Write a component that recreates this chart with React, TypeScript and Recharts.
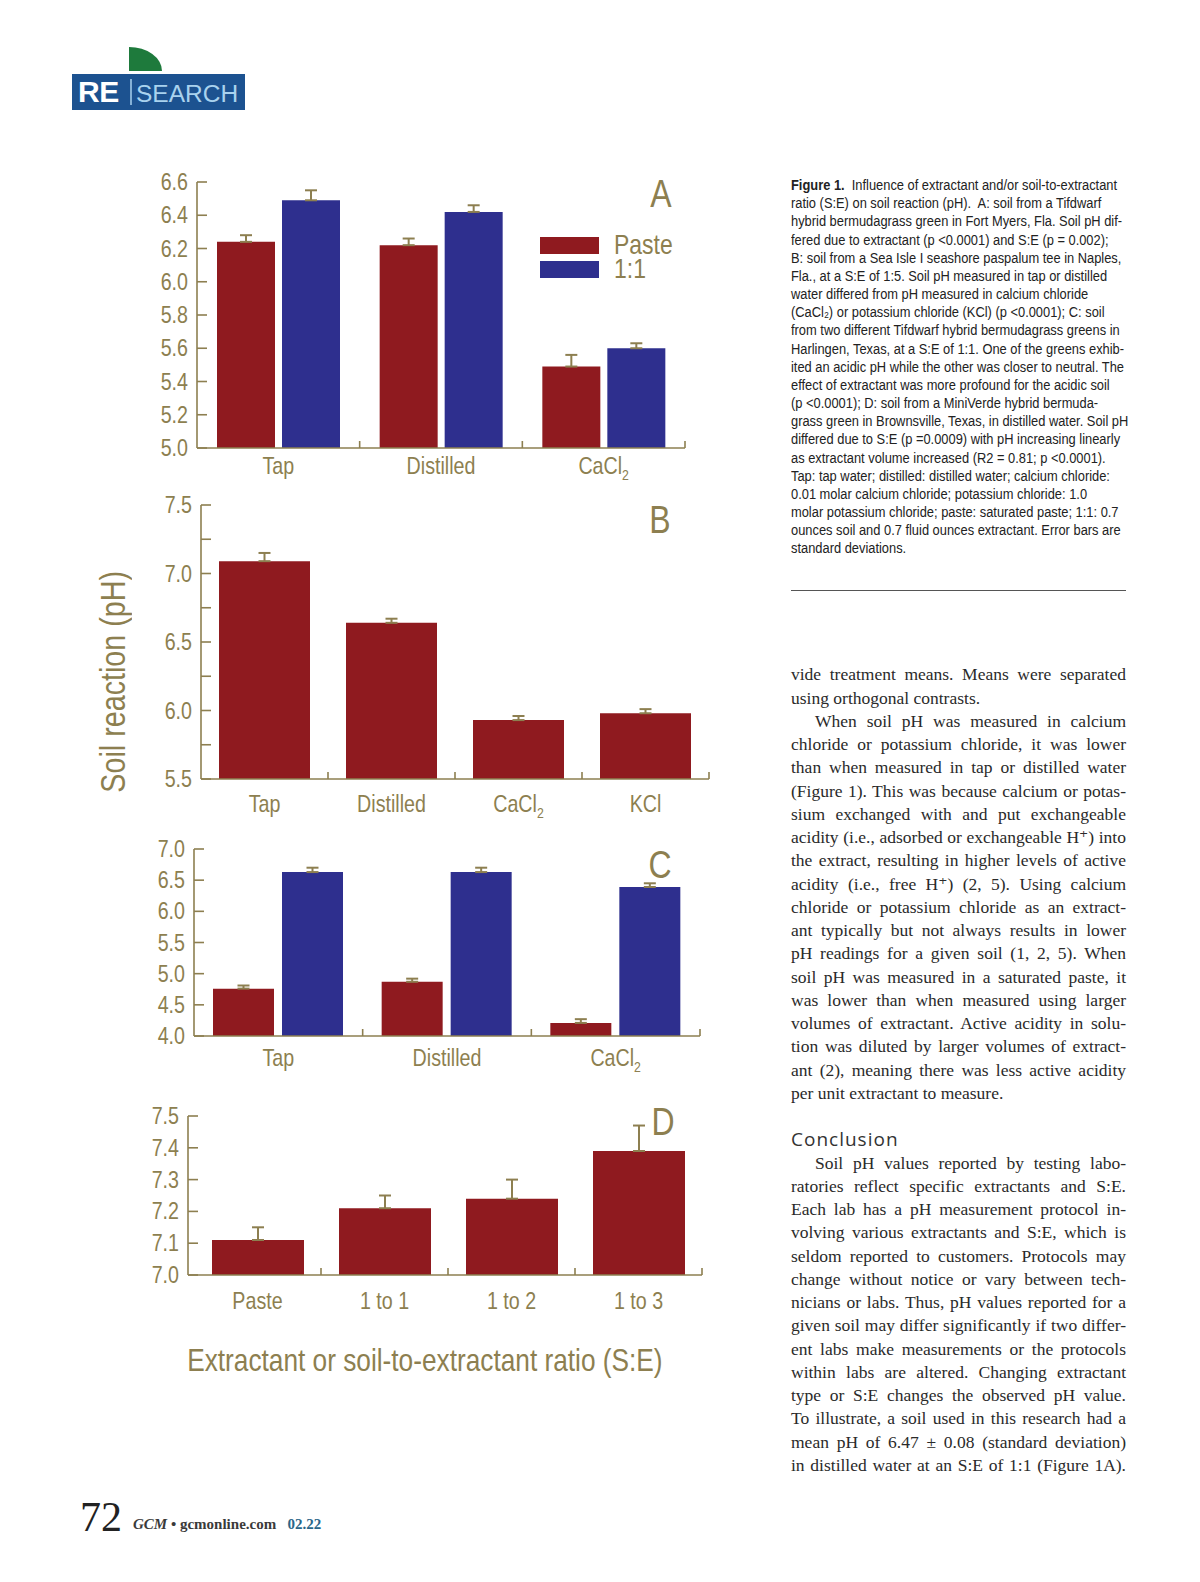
import React from "react";
import { BarChart, Bar, XAxis, YAxis, ErrorBar, Legend } from "recharts";

// ---- data ----
const groupsA = ["Tap", "Distilled", "CaCl2"];
const pasteA = [6.24, 6.22, 5.49];
const pasteSdA = [0.04, 0.04, 0.07];
const oneA = [6.49, 6.42, 5.6];
const oneSdA = [0.06, 0.04, 0.03];
const ticksA = [5.0, 5.2, 5.4, 5.6, 5.8, 6.0, 6.2, 6.4, 6.6];

const groupsB = ["Tap", "Distilled", "CaCl2", "KCl"];
const valuesB = [7.09, 6.64, 5.93, 5.98];
const sdB = [0.06, 0.03, 0.03, 0.03];
const ticksB = [5.5, 5.75, 6.0, 6.25, 6.5, 6.75, 7.0, 7.25, 7.5];

const groupsC = ["Tap", "Distilled", "CaCl2"];
const pasteC = [4.76, 4.87, 4.21];
const pasteSdC = [0.05, 0.05, 0.06];
const oneC = [6.63, 6.63, 6.39];
const oneSdC = [0.07, 0.07, 0.06];
const ticksC = [4.0, 4.5, 5.0, 5.5, 6.0, 6.5, 7.0];

const groupsD = ["Paste", "1 to 1", "1 to 2", "1 to 3"];
const valuesD = [7.11, 7.21, 7.24, 7.39];
const sdD = [0.04, 0.04, 0.06, 0.08];
const ticksD = [7.0, 7.1, 7.2, 7.3, 7.4, 7.5];

const seriesOrder = ["Paste", "1:1"];

const OLIVE = "#8d7f50";
const RED = "#8f1a1f";
const BLUE = "#2e2f8e";
// no narrow face installed, so Liberation Sans gets squeezed to Arial Narrow proportions
const SANS = '"Liberation Sans", Arial, sans-serif';
const SQ = 0.82;
const SERIF = '"Liberation Serif", "DejaVu Serif", serif';

const rowsA = groupsA.map((g, i) => ({ group: g, paste: pasteA[i], pasteSd: [0, pasteSdA[i]], one: oneA[i], oneSd: [0, oneSdA[i]] }));
const rowsB = groupsB.map((g, i) => ({ group: g, paste: valuesB[i], pasteSd: [0, sdB[i]] }));
const rowsC = groupsC.map((g, i) => ({ group: g, paste: pasteC[i], pasteSd: [0, pasteSdC[i]], one: oneC[i], oneSd: [0, oneSdC[i]] }));
const rowsD = groupsD.map((g, i) => ({ group: g, paste: valuesD[i], pasteSd: [0, sdD[i]] }));

const Y_W = 60;
const X_H = 50;
const M = { top: 20, right: 10, left: 0, bottom: 0 };

function Narrow({ children, origin = "left", sq = SQ, style }: any) {
  return (
    <span style={{ display: "inline-block", whiteSpace: "pre", fontFamily: SANS, transform: `scaleX(${sq})`, transformOrigin: origin, ...style }}>
      {children}
    </span>
  );
}

function YTick(props: any) {
  const { x, y, payload, labelStep } = props;
  const v = payload.value as number;
  const show = Math.abs(v / labelStep - Math.round(v / labelStep)) < 1e-6;
  const axisX = x + 9;
  return (
    <g>
      <line x1={axisX} x2={axisX + 10} y1={y} y2={y} stroke={OLIVE} strokeWidth={1.6} />
      {show && (
        <text transform={`translate(${x},${y + 8}) scale(${SQ},1)`} textAnchor="end" fill={OLIVE} fontSize={24} fontFamily={SANS}>
          {v.toFixed(1)}
        </text>
      )}
    </g>
  );
}

function XTick(props: any) {
  const { x, y, payload, step, base, padL } = props;
  const axisY = y - 4;
  const raw = String(payload.value);
  const chem = raw === "CaCl2";
  const bx = x + step / 2;
  return (
    <g>
      <line x1={bx} x2={bx} y1={axisY} y2={axisY - 7} stroke={OLIVE} strokeWidth={1.6} />
      <text transform={`translate(${x},${axisY + base}) scale(${SQ},1)`} textAnchor="middle" fill={OLIVE} fontSize={24} fontFamily={SANS}>
        {chem ? (
          <>
            CaCl<tspan dy={6} fontSize={15}>2</tspan>
          </>
        ) : (
          raw
        )}
      </text>
    </g>
  );
}

function LegendBox(props: any) {
  const items = [...(props.payload || [])].sort((a: any, b: any) => seriesOrder.indexOf(a.value) - seriesOrder.indexOf(b.value));
  return (
    <div>
      {items.map((it: any) => (
        <div key={it.value} style={{ display: "flex", alignItems: "center", height: 24 }}>
          <span style={{ width: 59, height: 17, background: it.color, display: "inline-block" }} />
          <Narrow style={{ marginLeft: 15, fontSize: 28, color: OLIVE, lineHeight: "22px" }}>{it.value}</Narrow>
        </div>
      ))}
    </div>
  );
}

function Panel(p: any) {
  const n = p.data.length;
  const padL = p.padL || 0;
  const step = (p.width - Y_W - M.left - M.right - padL) / n;
  return (
    <div style={{ position: "absolute", left: p.left, top: p.top }}>
      <BarChart width={p.width} height={p.height} data={p.data} margin={M} barGap={p.barGap || 0} barSize={p.barSize}>
        <XAxis
          dataKey="group"
          height={X_H}
          interval={0}
          padding={{ left: padL, right: 0 }}
          tickLine={false}
          tickSize={0}
          tickMargin={4}
          axisLine={{ stroke: OLIVE, strokeWidth: 1.6 }}
          tick={(tp: any) => <XTick {...tp} step={step} base={p.labelBase} />}
        />
        <YAxis
          type="number"
          domain={p.domain}
          ticks={p.ticks}
          interval={0}
          allowDataOverflow
          width={Y_W}
          tickLine={false}
          tickSize={0}
          tickMargin={9}
          axisLine={{ stroke: OLIVE, strokeWidth: 1.6 }}
          tick={(tp: any) => <YTick {...tp} labelStep={p.labelStep} />}
        />
        {p.legend && (
          <Legend
            layout="vertical"
            align="center"
            verticalAlign="middle"
            content={(lp: any) => <LegendBox {...lp} />}
            wrapperStyle={{ left: p.legend[0] - p.left, top: p.legend[1] - p.top, width: 160, height: 50 }}
          />
        )}
        <Bar dataKey="paste" name="Paste" fill={RED} isAnimationActive={false}>
          <ErrorBar dataKey="pasteSd" width={6} stroke={OLIVE} strokeWidth={2} direction="y" isAnimationActive={false} />
        </Bar>
        {p.two && (
          <Bar dataKey="one" name="1:1" fill={BLUE} isAnimationActive={false}>
            <ErrorBar dataKey="oneSd" width={6} stroke={OLIVE} strokeWidth={2} direction="y" isAnimationActive={false} />
          </Bar>
        )}
      </BarChart>
      <div
        style={{
          position: "absolute",
          left: p.letter[0] - p.left - 30,
          top: p.letter[1] - p.top - 19,
          width: 60,
          textAlign: "center",
          fontSize: 39,
          lineHeight: "38px",
          color: OLIVE,
        }}
      >
        <Narrow origin="center">{p.letter[2]}</Narrow>
      </div>
    </div>
  );
}

const caption: string[] = [
  "  Influence of extractant and/or soil-to-extractant",
  "ratio (S:E) on soil reaction (pH).  A: soil from a Tifdwarf",
  "hybrid bermudagrass green in Fort Myers, Fla. Soil pH dif-",
  "fered due to extractant (p <0.0001) and S:E (p = 0.002);",
  "B: soil from a Sea Isle I seashore paspalum tee in Naples,",
  "Fla., at a S:E of 1:5. Soil pH measured in tap or distilled",
  "water differed from pH measured in calcium chloride",
  "(CaCl\u2082) or potassium chloride (KCl) (p <0.0001); C: soil",
  "from two different Tifdwarf hybrid bermudagrass greens in",
  "Harlingen, Texas, at a S:E of 1:1. One of the greens exhib-",
  "ited an acidic pH while the other was closer to neutral. The",
  "effect of extractant was more profound for the acidic soil",
  "(p <0.0001); D: soil from a MiniVerde hybrid bermuda-",
  "grass green in Brownsville, Texas, in distilled water. Soil pH",
  "differed due to S:E (p =0.0009) with pH increasing linearly",
  "as extractant volume increased (R2 = 0.81; p <0.0001).",
  "Tap: tap water; distilled: distilled water; calcium chloride:",
  "0.01 molar calcium chloride; potassium chloride: 1.0",
  "molar potassium chloride; paste: saturated paste; 1:1: 0.7",
  "ounces soil and 0.7 fluid ounces extractant. Error bars are",
  "standard deviations.",
];

// [text, indent, lastLineOfParagraph]
const body: [string, boolean, boolean][] = [
  ["vide treatment means. Means were separated", false, false],
  ["using orthogonal contrasts.", false, true],
  ["When soil pH was measured in calcium", true, false],
  ["chloride or potassium chloride, it was lower", false, false],
  ["than when measured in tap or distilled water", false, false],
  ["(Figure 1). This was because calcium or potas-", false, false],
  ["sium exchanged with and put exchangeable", false, false],
  ["acidity (i.e., adsorbed or exchangeable H\u207A) into", false, false],
  ["the extract, resulting in higher levels of active", false, false],
  ["acidity (i.e., free H\u207A) (2, 5). Using calcium", false, false],
  ["chloride or potassium chloride as an extract-", false, false],
  ["ant typically but not always results in lower", false, false],
  ["pH readings for a given soil (1, 2, 5). When", false, false],
  ["soil pH was measured in a saturated paste, it", false, false],
  ["was lower than when measured using larger", false, false],
  ["volumes of extractant. Active acidity in solu-", false, false],
  ["tion was diluted by larger volumes of extract-", false, false],
  ["ant (2), meaning there was less active acidity", false, false],
  ["per unit extractant to measure.", false, true],
  ["", false, true],
  ["", false, true],
  ["Soil pH values reported by testing labo-", true, false],
  ["ratories reflect specific extractants and S:E.", false, false],
  ["Each lab has a pH measurement protocol in-", false, false],
  ["volving various extractants and S:E, which is", false, false],
  ["seldom reported to customers. Protocols may", false, false],
  ["change without notice or vary between tech-", false, false],
  ["nicians or labs. Thus, pH values reported for a", false, false],
  ["given soil may differ significantly if two differ-", false, false],
  ["ent labs make measurements or the protocols", false, false],
  ["within labs are altered. Changing extractant", false, false],
  ["type or S:E changes the observed pH value.", false, false],
  ["To illustrate, a soil used in this research had a", false, false],
  ["mean pH of 6.47 \u00B1 0.08 (standard deviation)", false, false],
  ["in distilled water at an S:E of 1:1 (Figure 1A).", false, false],
];

export default function App() {
  const colX = 791;
  const colW = 335;
  const bodyLH = 23.25;
  const bodyTop = 675 - bodyLH / 2;
  return (
    <div style={{ position: "absolute", left: 0, top: 0, width: 1200, height: 1582, background: "#fff", overflow: "hidden" }}>
      {/* header logo */}
      <svg style={{ position: "absolute", left: 0, top: 0 }} width={260} height={120}>
        <path d="M129,71 L129,47 A33,24 0 0,1 162,71 Z" fill="#1e7a3c" />
        <rect x={72} y={74} width={173} height={36} fill="#1c5290" />
        <text x={78} y={102} fill="#fff" fontFamily={SANS} fontWeight={900} fontSize={30} letterSpacing={-0.5}>
          RE
        </text>
        <line x1={131} x2={131} y1={79} y2={105} stroke="#a9d2ee" strokeWidth={1.5} />
        <text x={136} y={102} fill="#a9d2ee" fontFamily={SANS} fontSize={24.5}>
          SEARCH
        </text>
      </svg>

      <Panel left={137} top={162} width={558} height={336} data={rowsA} two domain={[5.0, 6.6]} ticks={ticksA} labelStep={0.2} barSize={58} barGap={7} labelBase={26} legend={[540, 233]} letter={[661, 194, "A"]} />
      <Panel left={141} top={485} width={578} height={344} data={rowsB} domain={[5.5, 7.5]} ticks={ticksB} labelStep={0.5} barSize={91} labelBase={33} letter={[660, 520, "B"]} />
      <Panel left={134} top={829} width={576} height={257} data={rowsC} two domain={[4.0, 7.0]} ticks={ticksC} labelStep={0.5} barSize={61} barGap={8} labelBase={30} letter={[660, 865, "C"]} />
      <Panel left={128} top={1096} width={584} height={229} data={rowsD} domain={[7.0, 7.5]} ticks={ticksD} labelStep={0.1} barSize={92} padL={6} labelBase={34} letter={[663, 1122, "D"]} />

      {/* axis titles */}
      <div style={{ position: "absolute", left: 113 - 150, top: 682 - 20, width: 300, height: 40, lineHeight: "40px", textAlign: "center", transform: "rotate(-90deg)", fontSize: 35, color: OLIVE }}>
        <Narrow origin="center">Soil reaction (pH)</Narrow>
      </div>
      <div style={{ position: "absolute", left: 425 - 300, top: 1360 - 20, width: 600, height: 40, lineHeight: "40px", textAlign: "center", fontSize: 32, color: OLIVE }}>
        <Narrow origin="center">Extractant or soil-to-extractant ratio (S:E)</Narrow>
      </div>

      {/* caption */}
      {caption.map((line, i) => (
        <div key={i} style={{ position: "absolute", left: colX, top: 185 - 9 + i * 18.17, height: 18, lineHeight: "18px", fontSize: 15.5, color: "#222" }}>
          <Narrow sq={0.83}>
            {i === 0 && <b>Figure 1.</b>}
            {line}
          </Narrow>
        </div>
      ))}
      <div style={{ position: "absolute", left: colX, top: 590, width: colW, height: 1, background: "#555" }} />

      {/* body text */}
      {body.map(([t, indent, last], i) =>
        t ? (
          <div
            key={i}
            style={{
              position: "absolute",
              left: colX,
              top: bodyTop + i * bodyLH,
              width: colW,
              height: bodyLH,
              lineHeight: `${bodyLH}px`,
              whiteSpace: "nowrap",
              textAlign: "justify",
              textAlignLast: last ? "left" : "justify",
              textIndent: indent ? 24 : 0,
              fontFamily: SERIF,
              fontSize: 17.5,
              color: "#2a2a2a",
            }}
          >
            {t}
          </div>
        ) : null
      )}
      <div style={{ position: "absolute", left: colX, top: bodyTop + 20 * bodyLH, height: bodyLH, lineHeight: `${bodyLH}px`, fontFamily: '"Open Sans", sans-serif', fontSize: 19, letterSpacing: 1, color: "#333" }}>
        Conclusion
      </div>

      {/* footer */}
      <div style={{ position: "absolute", left: 80, top: 1517 - 25, height: 50, lineHeight: "50px", fontFamily: SERIF, fontSize: 42, color: "#222" }}>72</div>
      <div style={{ position: "absolute", left: 133, top: 1524 - 10, height: 20, lineHeight: "20px", fontFamily: SERIF, fontSize: 15, fontWeight: 700, color: "#3a3a3a", whiteSpace: "pre" }}>
        <i>GCM</i> {"\u2022"} gcmonline.com{"   "}<span style={{ color: "#2a6689" }}>02.22</span>
      </div>
    </div>
  );
}
